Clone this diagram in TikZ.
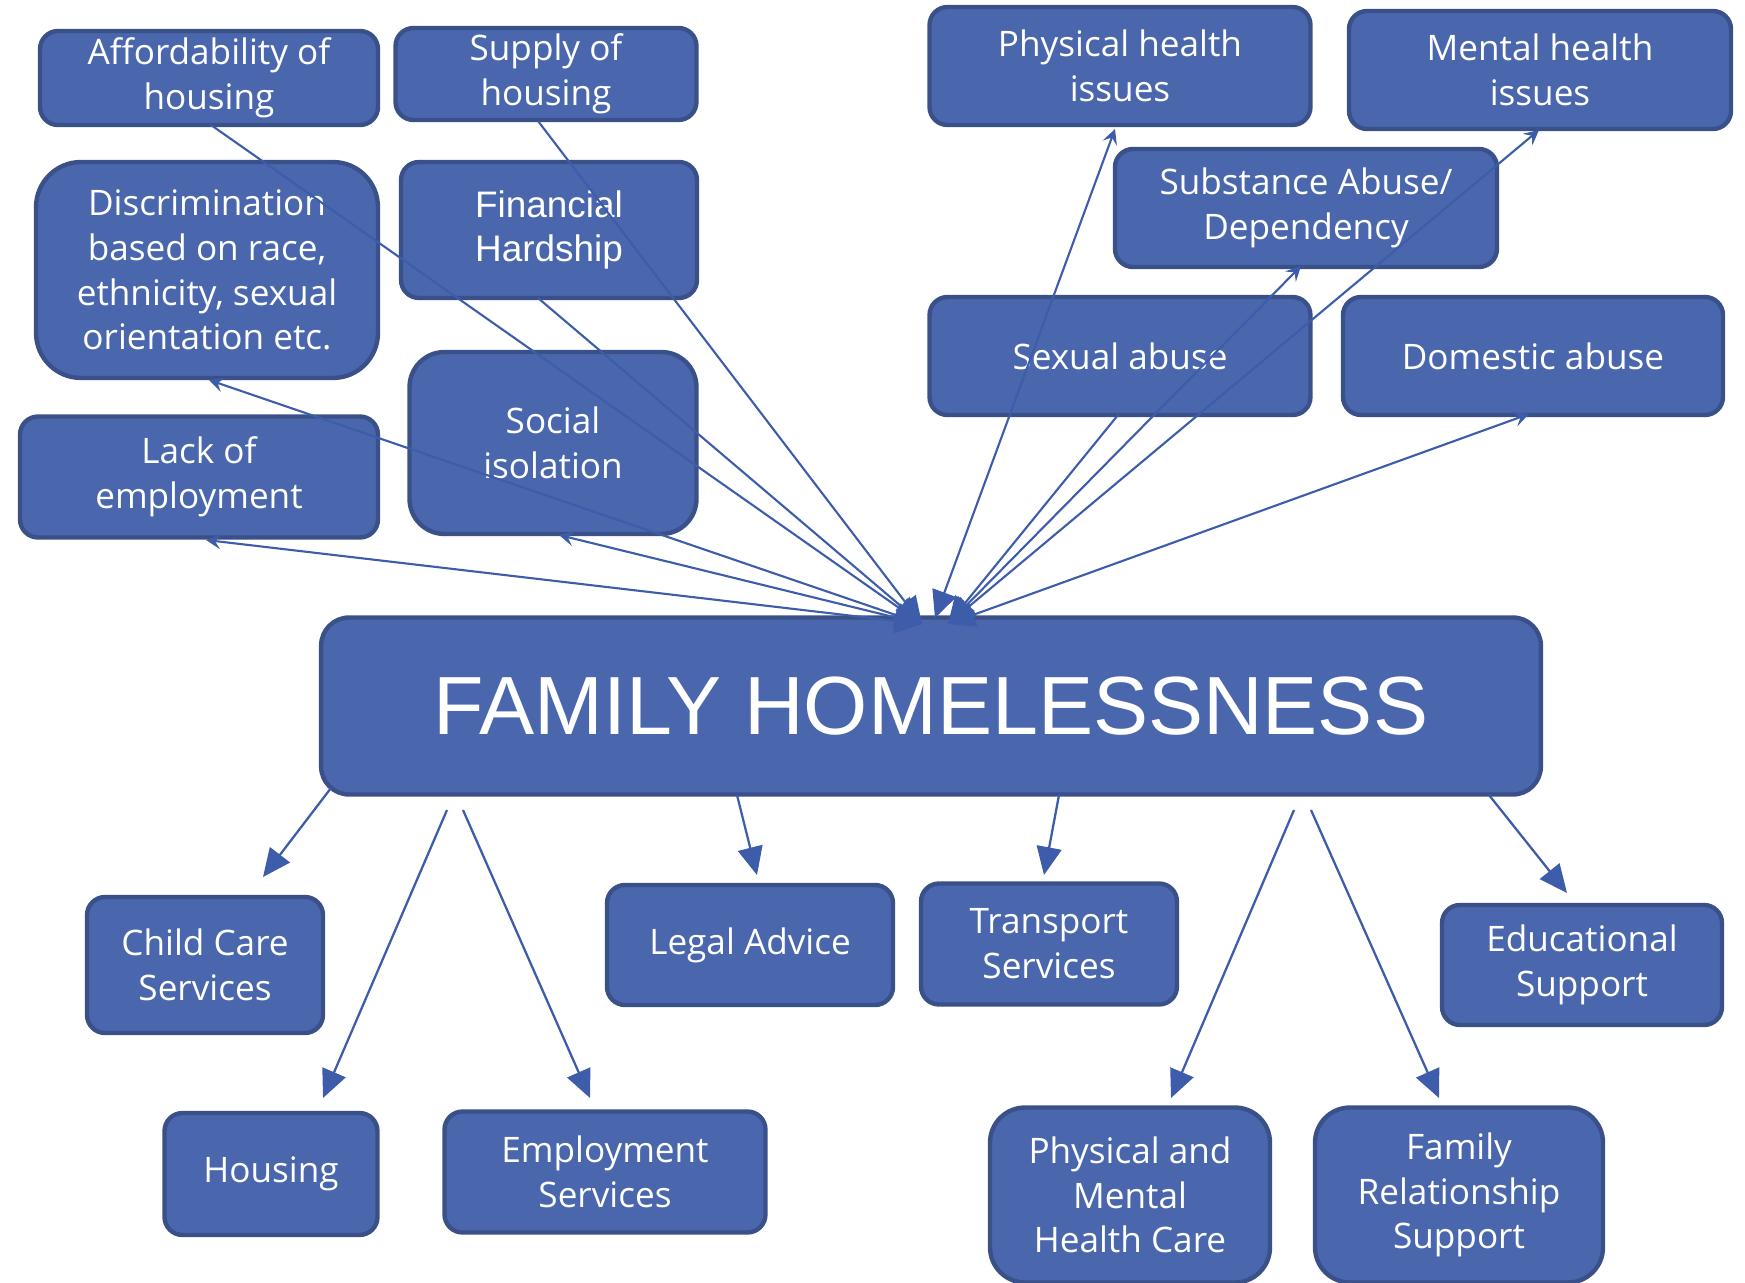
\documentclass[tikz,border=0pt]{standalone}
\usepackage{fontspec}
\setmainfont{Open Sans}
\newfontfamily\arialfont{Liberation Sans}
\usetikzlibrary{arrows.meta}

\definecolor{boxfill}{HTML}{4A67AD}
\definecolor{boxline}{HTML}{3A5089}
\definecolor{arrowline}{HTML}{3D5DAA}

\begin{document}
\begin{tikzpicture}
[x=0.02cm, y=-0.02cm, font=\fontsize{20pt}{25.5pt}\selectfont,
every node/.style={draw=boxline, fill=boxfill, line width=2.5pt, text=white, align=center, inner sep=0pt, rounded corners=0.36cm},
bigtip/.style={-{Triangle[length=0.56cm, width=0.5cm]}},
hubtip/.style={{Triangle[length=0.54cm, width=0.5cm]}-{Stealth[length=0.3cm, width=0.3cm, inset=0.12cm]}},
hubonly/.style={{Triangle[length=0.54cm, width=0.5cm]}-}
]

\useasboundingbox (0,0) rectangle (1745,1283);

% causes
\node[minimum width=6.76cm, minimum height=1.88cm] (aff) at (209,78) {Affordability of\\housing};
\node[minimum width=6.02cm, minimum height=1.84cm] (sup) at (546,74) {Supply of\\housing};
\node[minimum width=6.84cm, minimum height=4.32cm, rounded corners=0.9cm] (dis) at (207,270) {Discrimination\\based on race,\\ethnicity, sexual\\orientation etc.};
\node[minimum width=5.92cm, minimum height=2.72cm, font=\arialfont\fontsize{21pt}{25pt}\selectfont] (fin) at (549,230) {Financial\\Hardship};
\node[minimum width=7.16cm, minimum height=2.42cm] (lack) at (199,477) {Lack of\\employment};
\node[minimum width=5.74cm, minimum height=3.64cm, rounded corners=0.7cm] (soc) at (553,443) {Social\\isolation};
\node[minimum width=7.62cm, minimum height=2.36cm] (phys) at (1120,66) {Physical health\\issues};
\node[minimum width=7.64cm, minimum height=2.36cm] (ment) at (1540,70) {Mental health\\issues};
\node[minimum width=7.64cm, minimum height=2.36cm] (subs) at (1306,208) {Substance Abuse/\\Dependency};
\node[minimum width=7.62cm, minimum height=2.36cm] (sex) at (1120,356) {Sexual abuse};
\node[minimum width=7.60cm, minimum height=2.36cm] (dom) at (1533,356) {Domestic abuse};

% centre
\node[minimum width=24.4cm, minimum height=3.54cm, rounded corners=0.56cm, font=\arialfont\fontsize{47pt}{50pt}\selectfont] (hub) at (931,706) {FAMILY HOMELESSNESS};

% services
\node[minimum width=4.72cm, minimum height=2.72cm] (child) at (205,965) {Child Care\\Services};
\node[minimum width=5.72cm, minimum height=2.40cm] (legal) at (750,945) {Legal Advice};
\node[minimum width=5.12cm, minimum height=2.42cm] (trans) at (1049,944) {Transport\\Services};
\node[minimum width=5.60cm, minimum height=2.40cm] (edu) at (1582,965) {Educational\\Support};
\node[minimum width=4.26cm, minimum height=2.44cm] (hous) at (271,1174) {Housing};
\node[minimum width=6.42cm, minimum height=2.42cm] (emp) at (605,1172) {Employment\\Services};
\node[minimum width=5.60cm, minimum height=3.50cm, rounded corners=0.7cm] (pmh) at (1130,1195) {Physical and\\Mental\\Health Care};
\node[minimum width=5.76cm, minimum height=3.50cm, rounded corners=0.7cm] (fam) at (1459,1195) {Family\\Relationship\\Support};

\path
coordinate (hL) at (922,624)
coordinate (hM) at (935,618)
coordinate (hR) at (948,624)
coordinate (tAff) at (211,125)
coordinate (tSup) at (538,121)
coordinate (tDis) at (209,380)
coordinate (tFin) at (538,298)
coordinate (tLack) at (206,540)
coordinate (tSoc) at (559,535)
coordinate (tPhys) at (1115,129)
coordinate (tMent) at (1539,130)
coordinate (tSubs) at (1301,266)
coordinate (tSex) at (1118,415)
coordinate (tDom) at (1529,414)
coordinate (sChild) at (331,788)   coordinate (eChild) at (263,877)
coordinate (sHous) at (447,810)    coordinate (eHous) at (323,1098)
coordinate (sEmp) at (463,810)     coordinate (eEmp) at (590,1098)
coordinate (sLegal) at (737,795)   coordinate (eLegal) at (757,875)
coordinate (sTrans) at (1059,795)  coordinate (eTrans) at (1044,875)
coordinate (sPmh) at (1294,810)    coordinate (ePmh) at (1171,1098)
coordinate (sFam) at (1311,810)    coordinate (eFam) at (1439,1098)
coordinate (sEdu) at (1489,795)    coordinate (eEdu) at (1567,893)
;

% causes to centre
\begin{scope}[draw=arrowline, fill=arrowline, line width=1.2pt]
\draw[hubonly] (hL) -- (tAff) ;
\draw[hubonly] (hL) -- (tSup) ;
\draw[hubonly] (hL) -- (tFin) ;
\draw[hubtip] (hL) -- (tDis) ;
\draw[hubtip] (hL) -- (tLack) ;
\draw[hubtip] (hL) -- (tSoc) ;
\draw[hubtip] (hM) -- (tPhys) ;
\draw[hubonly] (hR) -- (tSex) ;
\draw[hubtip] (hR) -- (tSubs) ;
\draw[hubtip] (hR) -- (tMent) ;
\draw[hubtip] (hR) -- (tDom) ;
\end{scope}

% centre to services
\begin{scope}[draw=arrowline, fill=arrowline, line width=1.3pt, bigtip]
\foreach \s in {Child,Hous,Emp,Legal,Trans,Pmh,Fam,Edu}
{\draw (s\s) -- (e\s) ;}
\end{scope}

\end{tikzpicture}
\end{document}
